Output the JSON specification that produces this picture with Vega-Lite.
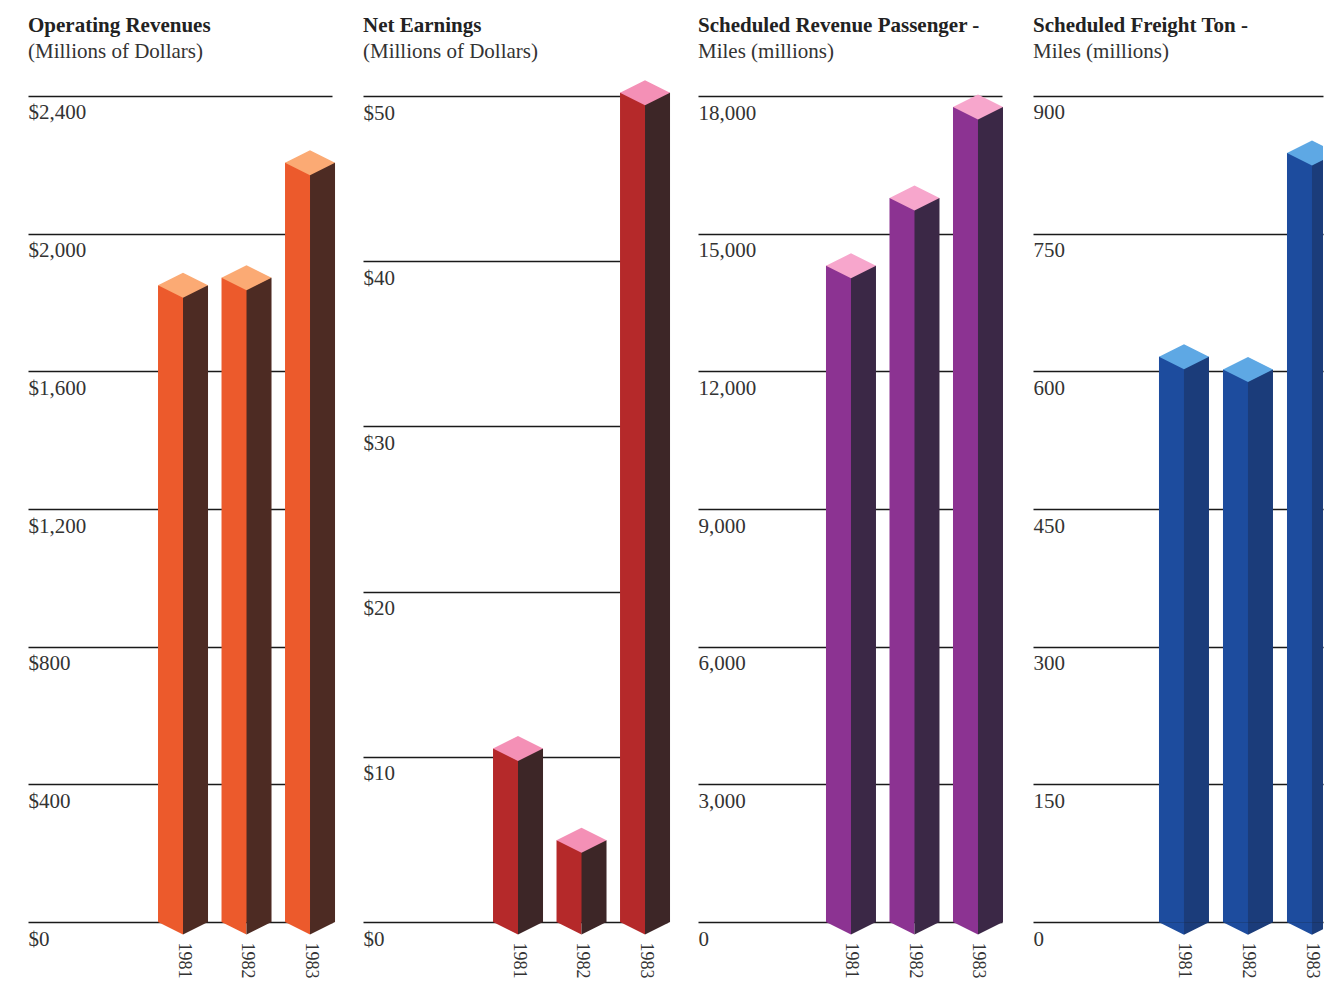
{
  "$schema": "https://vega.github.io/schema/vega-lite/v6.json",
  "padding": {"left": 28, "top": 15, "right": 1, "bottom": 0},
  "background": "white",
  "spacing": 31,
  "bounds": "flush",
  "datasets": {
    "rev": [{"year": 1981, "value": 1850}, {"year": 1982, "value": 1872}, {"year": 1983, "value": 2206}],
    "earn": [{"year": 1981, "value": 10.5}, {"year": 1982, "value": 4.95}, {"year": 1983, "value": 50.2}],
    "rpm": [{"year": 1981, "value": 14300}, {"year": 1982, "value": 15775}, {"year": 1983, "value": 17760}],
    "ftm": [{"year": 1981, "value": 616}, {"year": 1982, "value": 602}, {"year": 1983, "value": 838}]
  },
  "hconcat": [
    {
      "width": 304, "height": 844,
      "data": {"name": "rev"},
      "title": {"text": "Operating Revenues", "subtitle": "(Millions of Dollars)"},
      "encoding": {
        "x": {"field": "year", "type": "quantitative", "scale": {"domain": [1978.559, 1983.346], "nice": false, "zero": false, "padding": 0}, "axis": {"values": [1981, 1982, 1983], "format": "d"}},
        "y": {"field": "value", "type": "quantitative", "scale": {"domain": [0, 2452.3], "nice": false}, "axis": {"values": [0, 400, 800, 1200, 1600, 2000, 2400], "format": "$,d"}}
      },
      "layer": [
        {"mark": {"type": "bar", "width": 26, "xOffset": -12, "color": "#ec5a2c"}, "encoding": {"y2": {"datum": 0}}},
        {"mark": {"type": "bar", "width": 25, "xOffset": 12.5, "color": "#4d2b23"}, "encoding": {"y2": {"datum": 0}}},
        {"mark": {"type": "point", "shape": "M-1,0L0,-0.5L1,0L0,0.5Z", "size": 2500, "filled": true, "opacity": 1, "strokeWidth": 0, "color": "#fbaa74"}},
        {"mark": {"type": "point", "shape": "M-1,0L0,0.5L0,0Z", "size": 2500, "filled": true, "opacity": 1, "strokeWidth": 0, "color": "#ec5a2c"}, "encoding": {"y": {"datum": 0}}},
        {"mark": {"type": "point", "shape": "M0,0L1,0L0,0.5Z", "size": 2500, "filled": true, "opacity": 1, "strokeWidth": 0, "color": "#4d2b23"}, "encoding": {"y": {"datum": 0}}}
      ]
    },
    {
      "width": 304, "height": 844,
      "data": {"name": "earn"},
      "title": {"text": "Net Earnings", "subtitle": "(Millions of Dollars)"},
      "encoding": {
        "x": {"field": "year", "type": "quantitative", "scale": {"domain": [1978.559, 1983.346], "nice": false, "zero": false, "padding": 0}, "axis": {"values": [1981, 1982, 1983], "format": "d"}},
        "y": {"field": "value", "type": "quantitative", "scale": {"domain": [0, 51.09], "nice": false}, "axis": {"values": [0, 10, 20, 30, 40, 50], "format": "$d"}}
      },
      "layer": [
        {"mark": {"type": "bar", "width": 26, "xOffset": -12, "color": "#b5292a"}, "encoding": {"y2": {"datum": 0}}},
        {"mark": {"type": "bar", "width": 25, "xOffset": 12.5, "color": "#3d2627"}, "encoding": {"y2": {"datum": 0}}},
        {"mark": {"type": "point", "shape": "M-1,0L0,-0.5L1,0L0,0.5Z", "size": 2500, "filled": true, "opacity": 1, "strokeWidth": 0, "color": "#f490b6"}},
        {"mark": {"type": "point", "shape": "M-1,0L0,0.5L0,0Z", "size": 2500, "filled": true, "opacity": 1, "strokeWidth": 0, "color": "#b5292a"}, "encoding": {"y": {"datum": 0}}},
        {"mark": {"type": "point", "shape": "M0,0L1,0L0,0.5Z", "size": 2500, "filled": true, "opacity": 1, "strokeWidth": 0, "color": "#3d2627"}, "encoding": {"y": {"datum": 0}}}
      ]
    },
    {
      "width": 304, "height": 844,
      "data": {"name": "rpm"},
      "title": {"text": "Scheduled Revenue Passenger -", "subtitle": "Miles (millions)"},
      "encoding": {
        "x": {"field": "year", "type": "quantitative", "scale": {"domain": [1978.591, 1983.378], "nice": false, "zero": false, "padding": 0}, "axis": {"values": [1981, 1982, 1983], "format": "d"}},
        "y": {"field": "value", "type": "quantitative", "scale": {"domain": [0, 18392.3], "nice": false}, "axis": {"values": [0, 3000, 6000, 9000, 12000, 15000, 18000], "format": ",d"}}
      },
      "layer": [
        {"mark": {"type": "bar", "width": 26, "xOffset": -12, "color": "#8c3392"}, "encoding": {"y2": {"datum": 0}}},
        {"mark": {"type": "bar", "width": 25, "xOffset": 12.5, "color": "#3b2846"}, "encoding": {"y2": {"datum": 0}}},
        {"mark": {"type": "point", "shape": "M-1,0L0,-0.5L1,0L0,0.5Z", "size": 2500, "filled": true, "opacity": 1, "strokeWidth": 0, "color": "#f7a6cc"}},
        {"mark": {"type": "point", "shape": "M-1,0L0,0.5L0,0Z", "size": 2500, "filled": true, "opacity": 1, "strokeWidth": 0, "color": "#8c3392"}, "encoding": {"y": {"datum": 0}}},
        {"mark": {"type": "point", "shape": "M0,0L1,0L0,0.5Z", "size": 2500, "filled": true, "opacity": 1, "strokeWidth": 0, "color": "#3b2846"}, "encoding": {"y": {"datum": 0}}}
      ]
    },
    {
      "width": 290, "height": 857,
      "data": {"name": "ftm"},
      "title": {"text": "Scheduled Freight Ton -", "subtitle": "Miles (millions)"},
      "encoding": {
        "x": {"field": "year", "type": "quantitative", "scale": {"domain": [1978.641, 1983.172], "nice": false, "zero": false, "padding": 0}, "axis": {"values": [1981, 1982, 1983], "format": "d", "labelPadding": 7}},
        "y": {"field": "value", "type": "quantitative", "scale": {"domain": [-14, 919.6], "nice": false, "zero": false}, "axis": {"values": [0, 150, 300, 450, 600, 750, 900], "format": "d"}}
      },
      "layer": [
        {"mark": {"type": "bar", "width": 26, "xOffset": -12, "color": "#1d4c9e", "clip": true}, "encoding": {"y2": {"datum": 0}}},
        {"mark": {"type": "bar", "width": 25, "xOffset": 12.5, "color": "#1b3c7a", "clip": true}, "encoding": {"y2": {"datum": 0}}},
        {"mark": {"type": "point", "shape": "M-1,0L0,-0.5L1,0L0,0.5Z", "size": 2500, "filled": true, "opacity": 1, "strokeWidth": 0, "color": "#5ea8e4", "clip": true}},
        {"mark": {"type": "point", "shape": "M-1,0L0,0.5L0,0Z", "size": 2500, "filled": true, "opacity": 1, "strokeWidth": 0, "color": "#1d4c9e", "clip": true}, "encoding": {"y": {"datum": 0}}},
        {"mark": {"type": "point", "shape": "M0,0L1,0L0,0.5Z", "size": 2500, "filled": true, "opacity": 1, "strokeWidth": 0, "color": "#1b3c7a", "clip": true}, "encoding": {"y": {"datum": 0}}}
      ]
    }
  ],
  "config": {
    "view": {"stroke": null},
    "font": "Liberation Serif",
    "title": {"font": "Liberation Serif", "fontSize": 21, "fontWeight": "bold", "color": "#222", "anchor": "start", "frame": "group", "subtitleFont": "Liberation Serif", "subtitleFontSize": 21, "subtitleColor": "#333", "subtitlePadding": 5, "offset": 16},
    "axisY": {"grid": true, "gridColor": "#1a1a1a", "gridWidth": 1.7, "gridOpacity": 1, "domain": false, "ticks": false, "tickSize": 0, "labelAlign": "left", "labelBaseline": "top", "labelPadding": 0, "labelOffset": 6, "labelFont": "Liberation Serif", "labelFontSize": 21, "labelColor": "#333", "title": null, "zindex": 1, "labelOverlap": false, "labelFlush": false},
    "axisX": {"domain": false, "ticks": false, "tickSize": 0, "grid": false, "labelAngle": 90, "labelPadding": 20, "labelFont": "Liberation Serif", "labelFontSize": 18, "labelColor": "#333", "title": null, "labelFlush": false, "labelOverlap": false}
  }
}
